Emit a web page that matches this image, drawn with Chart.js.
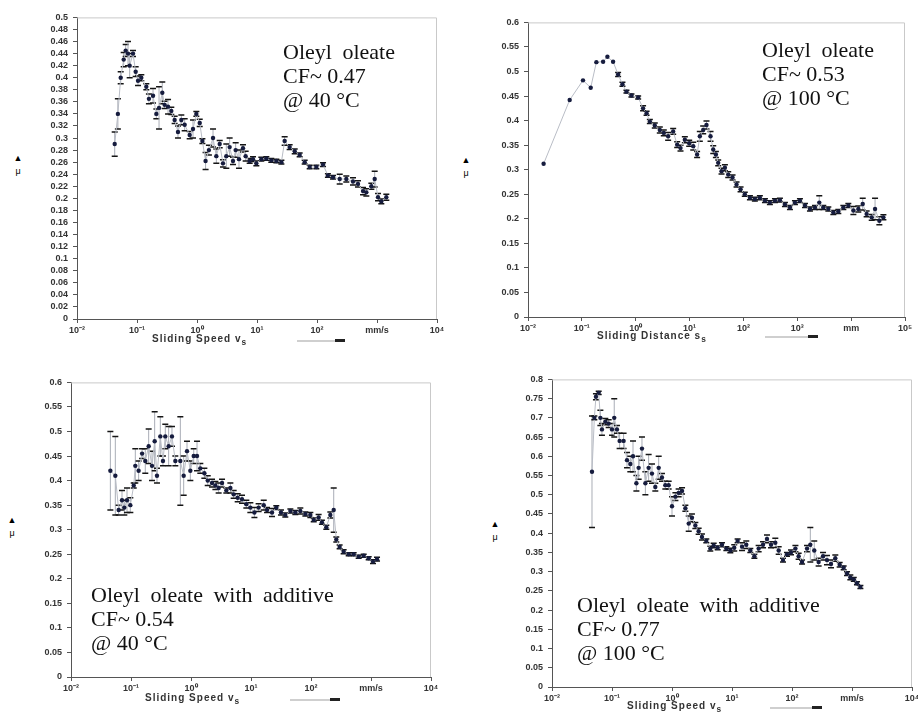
<!DOCTYPE html>
<html lang="en">
<head>
  <meta charset="UTF-8" />
  <title>Friction coefficient vs sliding speed</title>
  <script src="https://cdn.jsdelivr.net/npm/chart.js"></script>
  <style>
    html, body { margin: 0; padding: 0; background: #fff; overflow: hidden; }
    body { width: 918px; height: 719px; position: relative; }
    .panel { position: absolute; }
    .note {
      position: absolute;
      font-family: "Liberation Serif", "Times New Roman", serif;
      font-size: 22px;
      line-height: 24px;
      color: #111;
      white-space: nowrap;
    }
    .note .first { word-spacing: 5px; }
    .xtitle {
      position: absolute;
      font-family: "Liberation Sans", Arial, sans-serif;
      font-size: 10px;
      font-weight: bold;
      letter-spacing: 1px;
      color: #333;
      white-space: nowrap;
    }
    .mu {
      position: absolute;
      width: 12px;
      text-align: center;
      font-family: "Liberation Sans", "DejaVu Sans", sans-serif;
      font-size: 9px;
      line-height: 13px;
      color: #000;
    }
    .arrow {
      position: absolute;
      height: 2px;
      background: #cfcfcf;
    }
    .arrow::after {
      content: "";
      position: absolute;
      right: 0;
      top: -1px;
      width: 10px;
      height: 3px;
      background: #222;
    }
  </style>
</head>
<body>
  <div class="panel" id="box1" style="left:27px;top:7px;width:424px;height:334px"><canvas id="chart1"></canvas></div>
  <div class="panel" id="box2" style="left:478px;top:12px;width:441px;height:327px"><canvas id="chart2"></canvas></div>
  <div class="panel" id="box3" style="left:21px;top:372px;width:424px;height:327px"><canvas id="chart3"></canvas></div>
  <div class="panel" id="box4" style="left:502px;top:369px;width:424px;height:340px"><canvas id="chart4"></canvas></div>

  <div class="note" style="left:283px;top:40px"><span class="first">Oleyl oleate</span><br>CF~ 0.47<br>@ 40 °C</div>
  <div class="note" style="left:762px;top:38px"><span class="first">Oleyl oleate</span><br>CF~ 0.53<br>@ 100 °C</div>
  <div class="note" style="left:91px;top:583px"><span class="first">Oleyl oleate with additive</span><br>CF~ 0.54<br>@ 40 °C</div>
  <div class="note" style="left:577px;top:593px"><span class="first">Oleyl oleate with additive</span><br>CF~ 0.77<br>@ 100 °C</div>

  <div class="xtitle" style="left:152px;top:333px">Sliding Speed v<sub>s</sub></div>
  <div class="xtitle" style="left:597px;top:330px">Sliding Distance s<sub>s</sub></div>
  <div class="xtitle" style="left:145px;top:692px">Sliding Speed v<sub>s</sub></div>
  <div class="xtitle" style="left:627px;top:700px">Sliding Speed v<sub>s</sub></div>

  <div class="arrow" style="left:297px;top:340px;width:48px"></div>
  <div class="arrow" style="left:765px;top:336px;width:53px"></div>
  <div class="arrow" style="left:290px;top:699px;width:50px"></div>
  <div class="arrow" style="left:770px;top:707px;width:52px"></div>

  <div class="mu" style="left:12px;top:152px">▲<br>μ</div>
  <div class="mu" style="left:460px;top:154px">▲<br>μ</div>
  <div class="mu" style="left:6px;top:514px">▲<br>μ</div>
  <div class="mu" style="left:489px;top:518px">▲<br>μ</div>

  <script>
    // Oleyl oleate @ 40 °C
    const speed1 = [0.0425,0.048,0.0535,0.060,0.0648,0.0708,0.0755,0.0858,0.095,0.104,0.118,0.143,0.158,0.185,0.21,0.233,0.264,0.289,0.329,0.373,0.424,0.482,0.548,0.623,0.755,0.858,0.975,1.11,1.23,1.39,1.58,1.85,2.1,2.39,2.71,3.08,3.5,3.98,4.41,5.01,5.84,6.47,7.55,8.58,9.75,11.8,14.3,17.3,21,25.5,28.9,35,42.5,51.4,62.3,75.5,97.5,126,152,185,239,308,398,482,585,664,805,915,1040,1180,1430];
    const mu1 = [0.29,0.34,0.40,0.43,0.445,0.44,0.42,0.44,0.41,0.395,0.40,0.385,0.365,0.37,0.34,0.35,0.375,0.355,0.352,0.345,0.33,0.31,0.33,0.322,0.305,0.315,0.34,0.325,0.295,0.262,0.28,0.30,0.27,0.29,0.258,0.27,0.285,0.262,0.28,0.265,0.283,0.27,0.262,0.265,0.258,0.265,0.266,0.263,0.262,0.26,0.295,0.285,0.278,0.272,0.26,0.252,0.252,0.256,0.238,0.235,0.232,0.232,0.228,0.224,0.212,0.21,0.22,0.232,0.202,0.195,0.202];
    const err1 = [0.02,0.025,0.01,0.012,0.01,0.02,0.02,0.005,0.008,0.008,0.005,0.005,0.008,0.012,0.008,0.035,0.018,0.006,0.012,0.006,0.006,0.01,0.008,0.01,0.006,0.015,0.004,0.006,0.004,0.014,0.008,0.015,0.012,0.006,0.006,0.02,0.015,0.006,0.012,0.015,0.006,0.008,0.004,0.004,0.004,0.003,0.003,0.003,0.003,0.003,0.007,0.004,0.004,0.003,0.003,0.003,0.003,0.003,0.003,0.003,0.008,0.005,0.006,0.005,0.006,0.006,0.005,0.013,0.006,0.004,0.005];

    // Oleyl oleate @ 100 °C (against sliding distance)
    const dist2 = [0.0195,0.0594,0.105,0.146,0.186,0.248,0.298,0.38,0.471,0.567,0.673,0.833,1.11,1.37,1.59,1.83,2.26,2.8,3.32,4.0,4.96,5.89,6.79,8.17,9.84,11.7,13.8,15.5,17.9,20.6,24.5,27.5,30.8,34,39.2,45.3,52.2,62.8,74.5,88.5,106,132,163,202,251,310,385,476,590,731,905,1120,1390,1720,2130,2560,3040,3770,4670,5780,7160,8870,11000,13600,16400,19400,24100,27800,33400,39700];
    const mu2 = [0.312,0.442,0.482,0.467,0.519,0.52,0.53,0.52,0.494,0.474,0.459,0.451,0.447,0.425,0.415,0.398,0.39,0.381,0.375,0.368,0.378,0.351,0.344,0.361,0.354,0.348,0.331,0.368,0.381,0.391,0.368,0.341,0.331,0.314,0.297,0.304,0.29,0.284,0.27,0.26,0.25,0.243,0.24,0.243,0.237,0.233,0.237,0.238,0.229,0.223,0.233,0.237,0.227,0.22,0.223,0.233,0.223,0.22,0.213,0.215,0.223,0.227,0.217,0.22,0.23,0.21,0.203,0.22,0.196,0.203];
    const err2 = [0,0,0,0,0,0,0,0,0.004,0.004,0.003,0.003,0.003,0.005,0.004,0.004,0.005,0.006,0.006,0.008,0.006,0.006,0.006,0.006,0.006,0.008,0.006,0.01,0.008,0.008,0.01,0.008,0.006,0.006,0.006,0.006,0.006,0.005,0.005,0.005,0.004,0.004,0.004,0.004,0.004,0.004,0.004,0.004,0.004,0.004,0.004,0.004,0.004,0.004,0.004,0.014,0.004,0.004,0.004,0.004,0.004,0.004,0.008,0.006,0.012,0.006,0.006,0.022,0.008,0.005];

    // Oleyl oleate with additive @ 40 °C
    const speed3 = [0.0453,0.0548,0.0623,0.0708,0.0774,0.0858,0.0975,0.111,0.118,0.134,0.153,0.173,0.197,0.224,0.248,0.271,0.308,0.341,0.373,0.424,0.482,0.548,0.664,0.755,0.858,0.975,1.11,1.26,1.43,1.67,1.9,2.24,2.55,2.89,3.29,3.88,4.53,5.14,6.0,7.08,8.36,9.75,11.4,13.4,16.3,18.5,22.4,26.4,31.6,37.3,45.3,54.8,66.4,80.5,97.5,111,134,152,180,210,239,264,300,350,425,514,623,755,915,1080,1260];
    const mu3 = [0.42,0.41,0.34,0.36,0.345,0.36,0.35,0.39,0.43,0.42,0.455,0.44,0.47,0.43,0.48,0.41,0.49,0.44,0.49,0.47,0.49,0.44,0.44,0.41,0.46,0.42,0.45,0.45,0.425,0.415,0.40,0.395,0.39,0.385,0.395,0.38,0.385,0.372,0.365,0.362,0.352,0.345,0.335,0.345,0.35,0.34,0.335,0.345,0.335,0.33,0.338,0.335,0.338,0.332,0.33,0.32,0.325,0.315,0.305,0.33,0.34,0.28,0.265,0.255,0.25,0.25,0.245,0.247,0.242,0.235,0.24];
    const err3 = [0.08,0.08,0.01,0.02,0.015,0.025,0.015,0.005,0.035,0.02,0.01,0.025,0.035,0.03,0.06,0.015,0.04,0.01,0.025,0.04,0.02,0.01,0.09,0.04,0.02,0.02,0.015,0.03,0.01,0.01,0.01,0.008,0.008,0.01,0.008,0.005,0.01,0.008,0.008,0.008,0.008,0.01,0.01,0.008,0.01,0.005,0.008,0.004,0.005,0.004,0.004,0.004,0.006,0.004,0.005,0.004,0.006,0.004,0.004,0.006,0.045,0.005,0.004,0.004,0.003,0.003,0.003,0.003,0.003,0.004,0.004];

    // Oleyl oleate with additive @ 100 °C
    const speed4 = [0.0464,0.0508,0.054,0.06,0.064,0.068,0.0774,0.088,0.1,0.109,0.121,0.134,0.156,0.178,0.202,0.224,0.255,0.278,0.316,0.36,0.408,0.464,0.527,0.6,0.681,0.774,0.88,1.0,1.14,1.29,1.47,1.67,1.9,2.15,2.45,2.78,3.16,3.73,4.35,4.95,5.77,6.81,8.05,9.38,10.9,12.4,14.7,17.3,20.2,23.6,27.8,32.9,38.3,44.7,52.7,60,70.8,82.5,96.2,114,129,147,178,202,235,278,329,383,447,527,623,726,826,938,1070,1210,1380];
    const mu4 = [0.56,0.70,0.755,0.765,0.70,0.67,0.69,0.685,0.67,0.70,0.67,0.64,0.64,0.59,0.58,0.60,0.53,0.57,0.62,0.53,0.57,0.555,0.52,0.57,0.545,0.525,0.525,0.47,0.495,0.505,0.51,0.465,0.425,0.44,0.42,0.405,0.39,0.38,0.36,0.368,0.362,0.37,0.36,0.355,0.362,0.38,0.365,0.37,0.355,0.34,0.36,0.37,0.385,0.37,0.375,0.355,0.33,0.345,0.35,0.36,0.34,0.325,0.36,0.37,0.355,0.325,0.34,0.33,0.32,0.335,0.318,0.31,0.295,0.285,0.28,0.27,0.26];
    const err4 = [0.145,0.005,0.008,0.004,0.02,0.015,0.008,0.01,0.015,0.05,0.01,0.02,0.02,0.02,0.02,0.04,0.02,0.03,0.03,0.03,0.035,0.025,0.01,0.03,0.01,0.01,0.01,0.025,0.01,0.01,0.008,0.008,0.02,0.01,0.008,0.008,0.008,0.005,0.006,0.006,0.005,0.005,0.005,0.006,0.008,0.005,0.01,0.01,0.005,0.005,0.008,0.008,0.01,0.008,0.012,0.01,0.005,0.005,0.006,0.008,0.008,0.005,0.008,0.045,0.025,0.01,0.01,0.012,0.01,0.008,0.006,0.005,0.005,0.006,0.005,0.004,0.004];

    const sup = { "-": "\u207B", "0": "\u2070", "1": "\u00B9", "2": "\u00B2", "3": "\u00B3", "4": "\u2074", "5": "\u2075" };
    const power = (e) => "10" + String(e).split("").map((c) => sup[c]).join("");

    // vertical error bars with short caps, drawn under the markers
    const errorBars = {
      id: "errorBars",
      beforeDatasetsDraw(chart) {
        const ctx = chart.ctx;
        const ys = chart.scales.y;
        const ds = chart.data.datasets[0];
        const meta = chart.getDatasetMeta(0);
        ctx.save();
        meta.data.forEach((pt, i) => {
          const e = ds.err[i] || 0;
          if (!e) return;
          const v = ds.data[i].y;
          const top = ys.getPixelForValue(v + e);
          const bot = ys.getPixelForValue(v - e);
          ctx.strokeStyle = "#a9adb6";
          ctx.lineWidth = 1;
          ctx.beginPath();
          ctx.moveTo(pt.x, top);
          ctx.lineTo(pt.x, bot);
          ctx.stroke();
          ctx.strokeStyle = "#151515";
          ctx.lineWidth = 1.5;
          ctx.beginPath();
          ctx.moveTo(pt.x - 3, top);
          ctx.lineTo(pt.x + 3, top);
          ctx.moveTo(pt.x - 3, bot);
          ctx.lineTo(pt.x + 3, bot);
          ctx.stroke();
        });
        ctx.restore();
      },
    };

    // light frame on top and right of the plot box
    const frame = {
      id: "frame",
      afterDraw(chart) {
        const a = chart.chartArea;
        const ctx = chart.ctx;
        ctx.save();
        ctx.strokeStyle = "#c9c9c9";
        ctx.lineWidth = 1;
        ctx.beginPath();
        ctx.moveTo(a.left, a.top + 0.5);
        ctx.lineTo(a.right - 0.5, a.top + 0.5);
        ctx.lineTo(a.right - 0.5, a.bottom);
        ctx.stroke();
        ctx.restore();
      },
    };

    const tickFont = { family: "'Liberation Sans', Arial, sans-serif", size: 9, weight: "bold" };

    function makePanel(id, xs, ys, errs, yMax, yStep, xMaxExp, unitExp, unitLabel) {
      const decades = [];
      for (let e = -2; e <= xMaxExp; e++) decades.push(Math.pow(10, e));
      new Chart(document.getElementById(id), {
        type: "line",
        data: {
          datasets: [{
            data: xs.map((x, i) => ({ x: x, y: ys[i] })),
            err: errs,
            borderColor: "#b9bdc6",
            borderWidth: 1,
            pointRadius: 2.2,
            pointBackgroundColor: "#161c3e",
            pointBorderWidth: 0,
            tension: 0,
          }],
        },
        options: {
          responsive: true,
          maintainAspectRatio: false,
          animation: false,
          layout: { padding: { top: 8, right: 14, left: 0, bottom: 0 } },
          plugins: { legend: { display: false }, tooltip: { enabled: false } },
          scales: {
            x: {
              type: "logarithmic",
              min: 0.01,
              max: Math.pow(10, xMaxExp),
              afterBuildTicks: (axis) => { axis.ticks = decades.map((v) => ({ value: v })); },
              afterFit: (axis) => { axis.height = 22; },
              border: { color: "#555", width: 1 },
              grid: { drawOnChartArea: false, tickLength: 4, color: "#555" },
              ticks: {
                autoSkip: false,
                maxRotation: 0,
                padding: 2,
                color: "#333",
                font: tickFont,
                callback: (v) => {
                  const e = Math.round(Math.log10(v));
                  return e === unitExp ? unitLabel : power(e);
                },
              },
            },
            y: {
              min: 0,
              max: yMax,
              afterFit: (axis) => { axis.width = 50; },
              border: { color: "#555", width: 1 },
              grid: { drawOnChartArea: false, tickLength: 4, color: "#555" },
              ticks: {
                stepSize: yStep,
                autoSkip: false,
                padding: 5,
                color: "#333",
                font: tickFont,
                callback: (v) => String(+v.toFixed(2)),
              },
            },
          },
        },
        plugins: [errorBars, frame],
      });
    }

    makePanel("chart1", speed1, mu1, err1, 0.5, 0.02, 4, 3, "mm/s");
    makePanel("chart2", dist2, mu2, err2, 0.6, 0.05, 5, 4, "mm");
    makePanel("chart3", speed3, mu3, err3, 0.6, 0.05, 4, 3, "mm/s");
    makePanel("chart4", speed4, mu4, err4, 0.8, 0.05, 4, 3, "mm/s");
  </script>
</body>
</html>
